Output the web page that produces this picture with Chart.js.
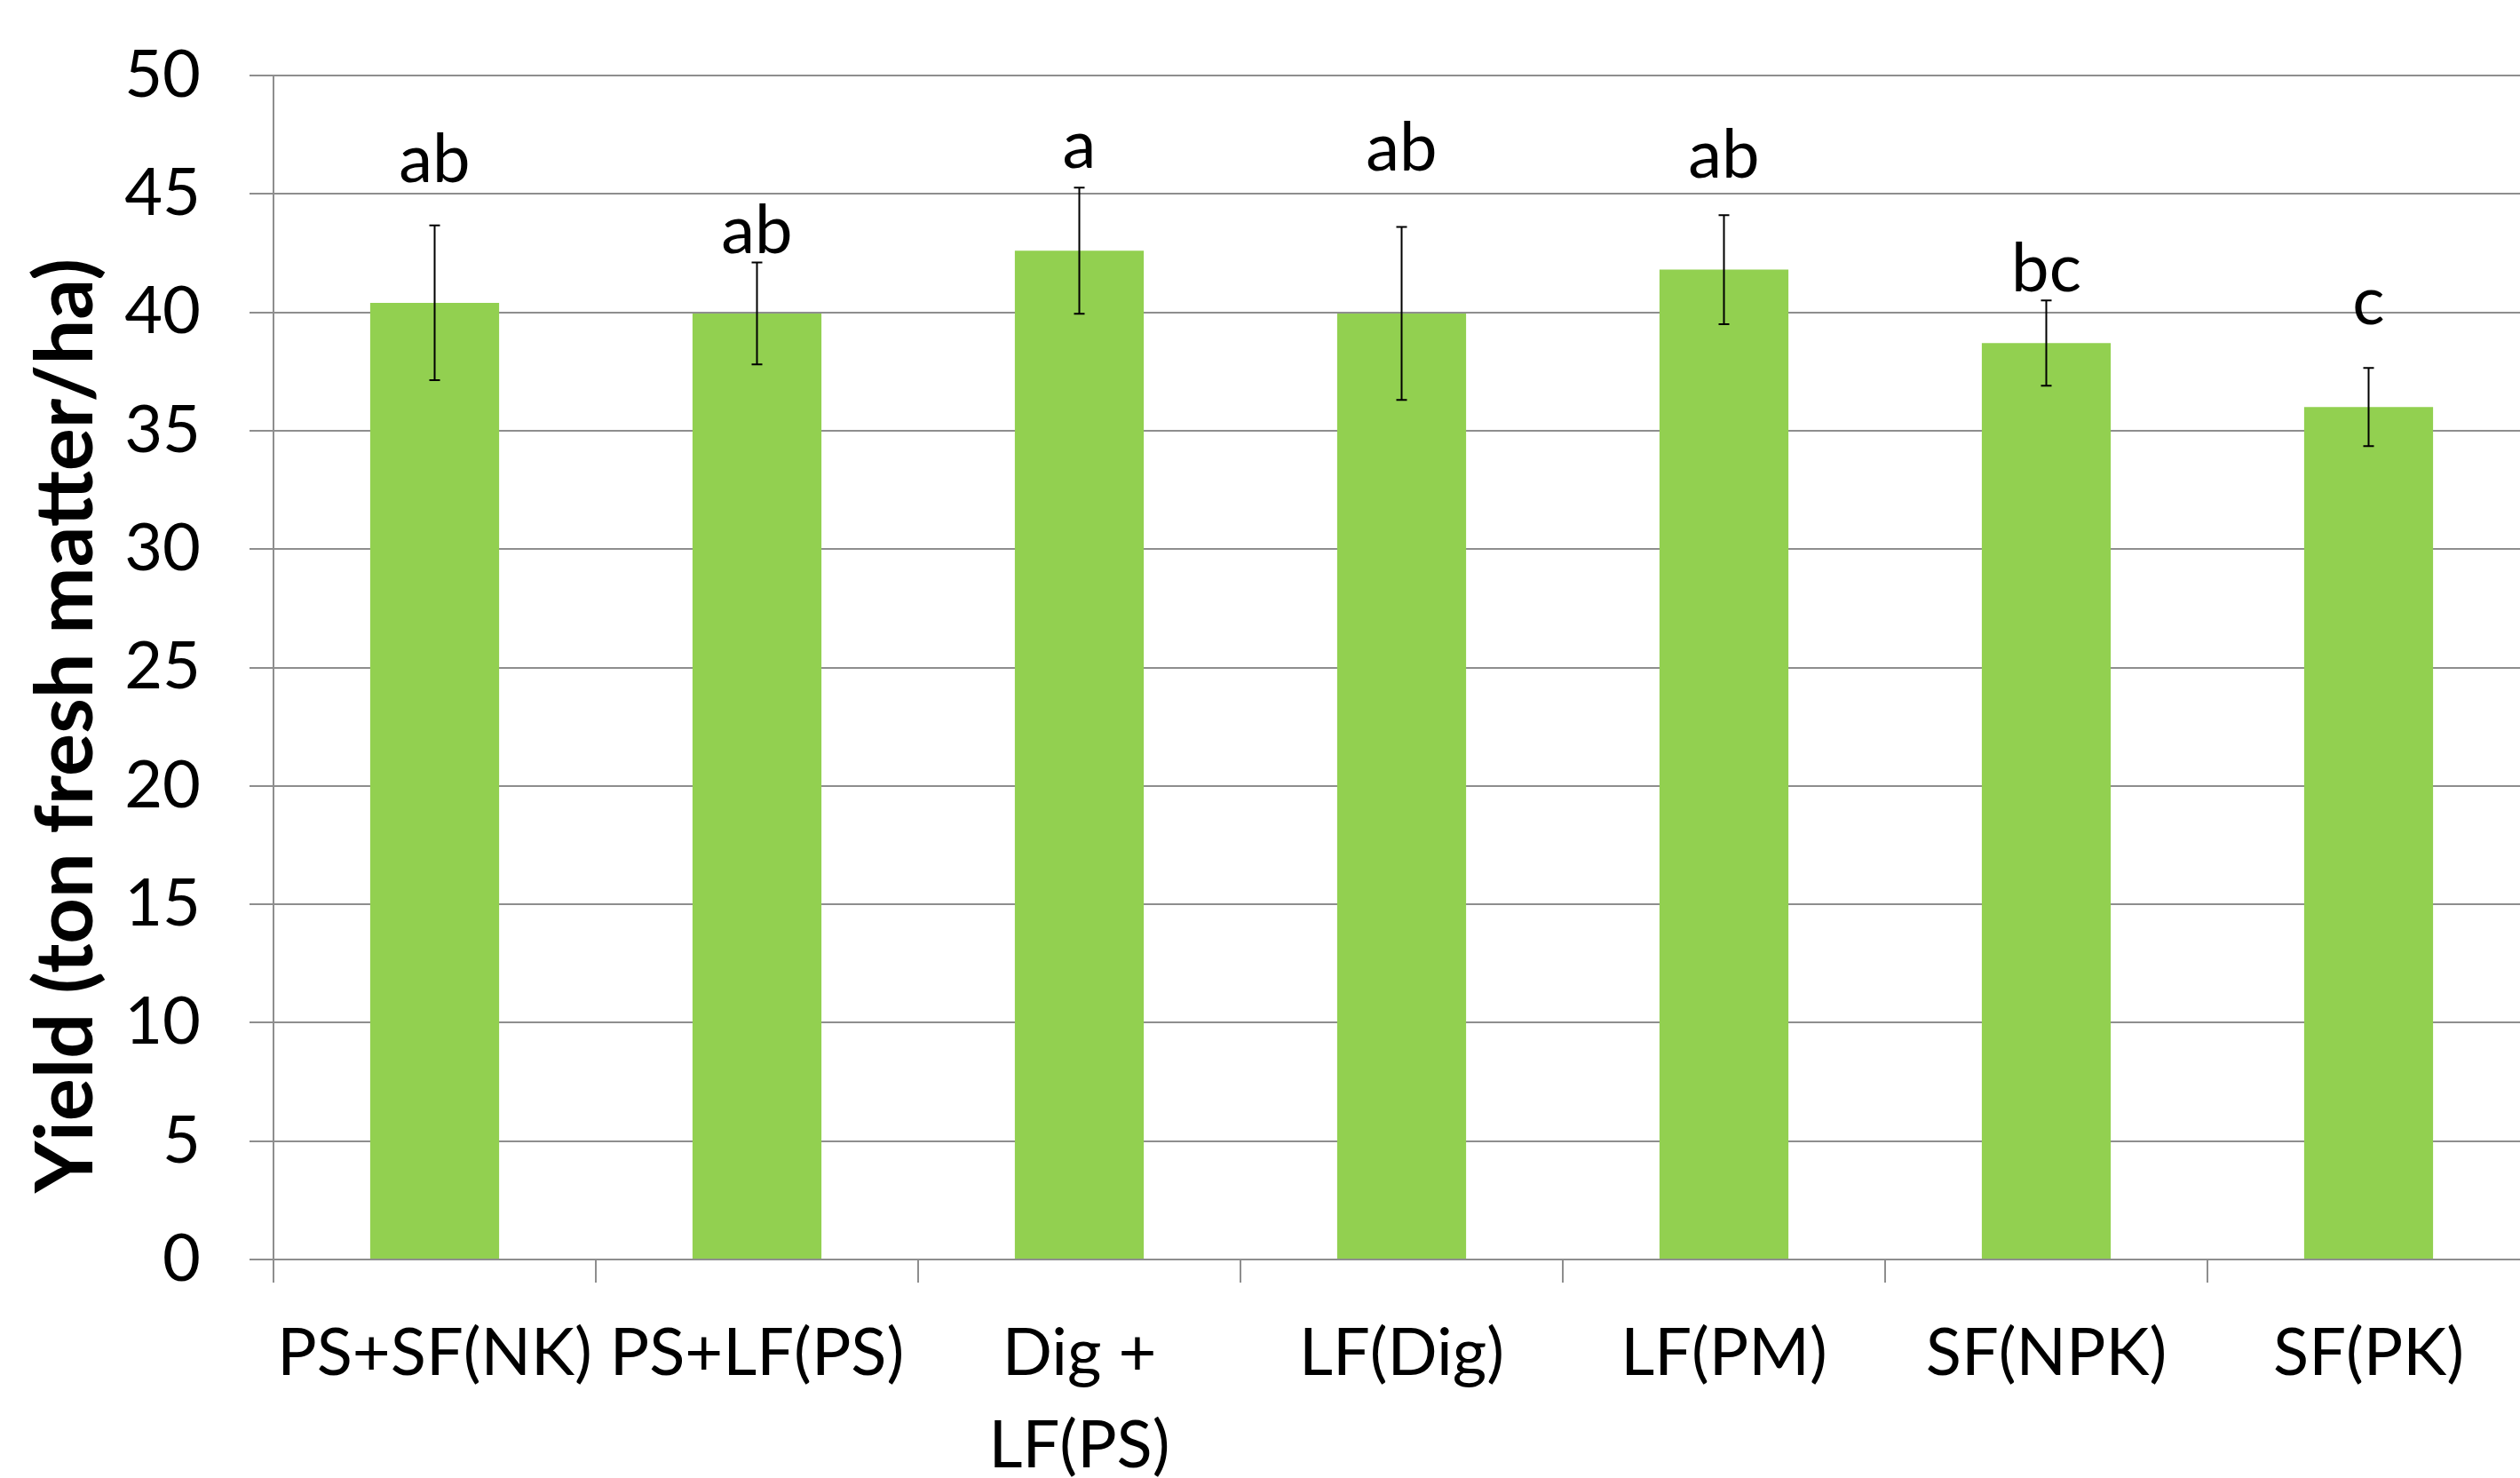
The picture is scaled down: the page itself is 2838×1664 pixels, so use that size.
<!DOCTYPE html>
<html><head><meta charset="utf-8">
<script src="https://cdn.jsdelivr.net/npm/chart.js@4/dist/chart.umd.min.js"></script>
<style>
html,body{margin:0;padding:0;background:#fff;overflow:hidden;width:2838px;height:1664px}
#wrap{position:absolute;left:0;top:0;width:2880px;height:1720px}
</style></head>
<body><div id="wrap"><canvas id="c" width="2880" height="1720"></canvas></div>
<script>
const categories = ['PS+SF(NK)', 'PS+LF(PS)', ['Dig +', 'LF(PS)'], 'LF(Dig)', 'LF(PM)', 'SF(NPK)', 'SF(PK)'];
const yieldMeans = [40.4, 39.95, 42.6, 39.95, 41.8, 38.7, 36.0];
const yieldErrors = [3.27, 2.15, 2.66, 3.65, 2.3, 1.8, 1.65];
const groupLetters = ['ab', 'ab', 'a', 'ab', 'ab', 'bc', 'c'];
const letterPositions = [45.5, 42.5, 46.1, 46.0, 45.7, 40.9, 39.5];
const yTickValues = [0, 5, 10, 15, 20, 25, 30, 35, 40, 45, 50];
const yAxisTitle = 'Yield (ton fresh matter/ha)';

const overlay = {
  id: 'overlay',
  afterDatasetsDraw(chart) {
    const ctx = chart.ctx;
    const y = chart.scales.y;
    const meta = chart.getDatasetMeta(0);
    ctx.save();
    ctx.strokeStyle = '#000';
    ctx.lineWidth = 2;
    meta.data.forEach((bar, i) => {
      const x = bar.x;
      const top = y.getPixelForValue(yieldMeans[i] + yieldErrors[i]);
      const bot = y.getPixelForValue(yieldMeans[i] - yieldErrors[i]);
      ctx.beginPath();
      ctx.moveTo(x, top); ctx.lineTo(x, bot);
      ctx.moveTo(x - 6, top); ctx.lineTo(x + 6, top);
      ctx.moveTo(x - 6, bot); ctx.lineTo(x + 6, bot);
      ctx.stroke();
    });
    ctx.fillStyle = '#000';
    ctx.font = '76px Lato';
    ctx.textAlign = 'center';
    ctx.textBaseline = 'alphabetic';
    meta.data.forEach((bar, i) => {
      ctx.fillText(groupLetters[i], bar.x, y.getPixelForValue(letterPositions[i]));
    });
    ctx.restore();
  }
};

function build() {
  Chart.defaults.font.family = 'Lato';
  Chart.defaults.color = '#000';
  new Chart(document.getElementById('c'), {
    type: 'bar',
    data: {
      labels: categories,
      datasets: [{
        data: yieldMeans,
        backgroundColor: '#92D050',
        borderWidth: 0,
        barPercentage: 0.4,
        categoryPercentage: 1.0
      }]
    },
    options: {
      responsive: false,
      animation: false,
      devicePixelRatio: 1,
      layout: { padding: { top: 85, right: 31, left: 0, bottom: 0 } },
      plugins: { legend: { display: false }, tooltip: { enabled: false } },
      scales: {
        x: {
          grid: { offset: true, drawOnChartArea: false, drawTicks: true, tickLength: 26, color: '#8e8e8e', lineWidth: 2 },
          border: { color: '#8e8e8e', width: 2 },
          ticks: { font: { size: 74, lineHeight: 1.405 }, color: '#000', padding: 28, maxRotation: 0, autoSkip: false },
          afterFit(axis) { axis.height = 302; }
        },
        y: {
          min: 0, max: 50,
          afterBuildTicks(axis) { axis.ticks = yTickValues.map(v => ({ value: v })); },
          grid: { color: '#8e8e8e', lineWidth: 2, drawTicks: true, tickLength: 27 },
          border: { color: '#8e8e8e', width: 2 },
          ticks: { font: { size: 74 }, color: '#000', padding: 55 },
          title: { display: true, text: yAxisTitle + '      ', font: { size: 90, weight: 'bold', lineHeight: 1 }, color: '#000', padding: { top: 30, bottom: 0 } },
          afterFit(axis) { axis.width = 308; axis.paddingTop = 0; axis.paddingBottom = 0; }
        }
      }
    },
    plugins: [overlay]
  });
}
if (document.fonts && document.fonts.load) {
  Promise.all([document.fonts.load('74px Lato'), document.fonts.load('bold 90px Lato')]).then(build, build);
} else { build(); }
</script>
</body></html>
